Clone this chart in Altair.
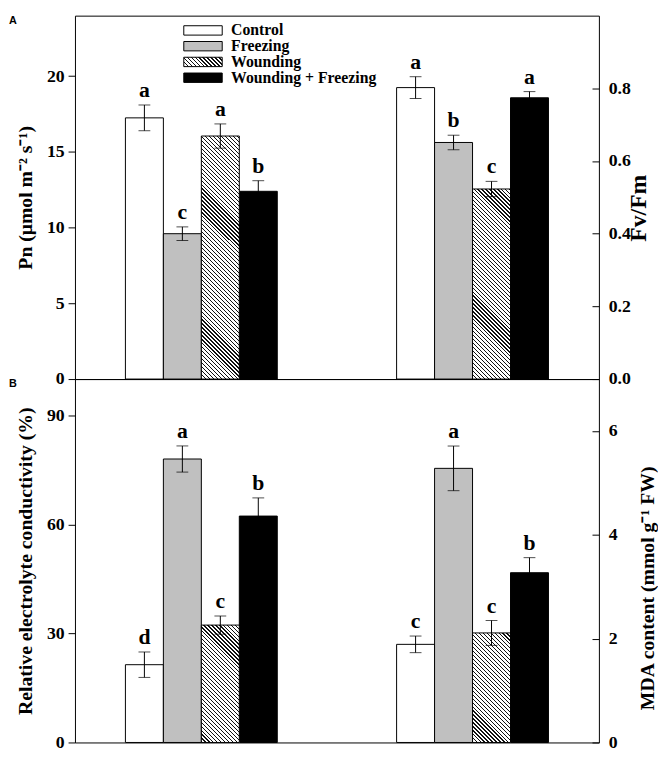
import math
import altair as alt
import pandas as pd

# ---------------- data ----------------
treatments = ["Control", "Freezing", "Wounding", "Wounding + Freezing"]
group_names = ["left", "right"]

pn_mean = [17.25, 9.6, 16.05, 12.4]
pn_err = [0.85, 0.45, 0.8, 0.7]
pn_letters = ["a", "c", "a", "b"]

fvfm_mean = [0.802, 0.651, 0.523, 0.774]
fvfm_err = [0.030, 0.020, 0.021, 0.017]
fvfm_letters = ["a", "b", "c", "a"]

rec_mean = [21.4, 78.0, 32.3, 62.3]
rec_err = [3.5, 3.6, 2.5, 5.0]
rec_letters = ["d", "a", "c", "b"]

mda_mean = [1.89, 5.28, 2.11, 3.27]
mda_err = [0.16, 0.43, 0.24, 0.29]
mda_letters = ["c", "a", "c", "b"]

pn_ticks = [0, 5, 10, 15, 20]
fvfm_ticks = [0.0, 0.2, 0.4, 0.6, 0.8]
rec_ticks = [0, 30, 60, 90]
mda_ticks = [0, 2, 4, 6]

# ---------------- layout / style ----------------
PANEL_W = 532
PANEL_H = 369
PAD_IN = 0.44
PAD_OUT = 0.186
STEP = PANEL_W / (2 - PAD_IN + 2 * PAD_OUT)
BAR_W = (1 - PAD_IN) * STEP / 4
SERIF = "Liberation Serif"
GRAY = "#c0c0c0"


def hatch(w, h, period=2.85, frac=0.3):
    """Diagonal '\\' hatching as a linear gradient in bounding-box units."""
    c = (w + h) / (w * w + h * h)
    n = (w + h) / math.sqrt(2) / period
    stops = []
    k = 0
    while k < n:
        a = k / n
        b = min((k + frac) / n, 1.0)
        e = min((k + 1) / n, 1.0)
        stops += [
            {"offset": round(a, 5), "color": "#111111"},
            {"offset": round(b, 5), "color": "#111111"},
            {"offset": round(b, 5), "color": "white"},
            {"offset": round(e, 5), "color": "white"},
        ]
        k += 1
    return {"gradient": "linear", "x1": 0, "y1": 1,
            "x2": round(c * w, 5), "y2": round(1 - c * h, 5), "stops": stops}


def gradient_expr(g):
    stops = ",".join("{offset:%s,color:'%s'}" % (s["offset"], s["color"]) for s in g["stops"])
    return "{gradient:'linear',x1:%s,y1:%s,x2:%s,y2:%s,stops:[%s]}" % (
        g["x1"], g["y1"], g["x2"], g["y2"], stops)


LEG_W, LEG_H = 39, 9.5
LEG_S = 10  # sqrt of the legend symbol size
legend_hatch = hatch(LEG_W, LEG_H)

color_scale = alt.Scale(
    domain=treatments,
    range=["white", GRAY, {"expr": gradient_expr(legend_hatch)}, "black"],
)

hx = LEG_W / LEG_S
hy = LEG_H / LEG_S
legend_path = "M-%.4f,-%.4fL%.4f,-%.4fL%.4f,%.4fL-%.4f,%.4fZ" % (hx, hy, hx, hy, hx, hy, hx, hy)


def side(means, errs, letters, group, ymax, ticks, orient, title, fmt,
         show_legend, axis_kw):
    df = pd.DataFrame({
        "group": group,
        "treatment": treatments,
        "mean": means,
        "lo": [m - e for m, e in zip(means, errs)],
        "hi": [m + e for m, e in zip(means, errs)],
        "letter": letters,
    })
    x = alt.X("group:N", scale=alt.Scale(domain=group_names, paddingInner=PAD_IN,
                                         paddingOuter=PAD_OUT), axis=None)
    xo = alt.XOffset("treatment:N", scale=alt.Scale(domain=treatments, paddingInner=0,
                                                    paddingOuter=0))
    yscale = alt.Scale(domain=[0, ymax], nice=False, zero=True)
    yaxis = alt.Axis(orient=orient, values=ticks, format=fmt, title=title, **axis_kw)
    base = alt.Chart(df)
    if show_legend:
        legend = alt.Legend(
            title=None, orient="none", legendX=122, legendY=7,
            symbolType=legend_path, symbolSize=LEG_S * LEG_S,
            symbolStrokeColor="black", symbolStrokeWidth=1,
            labelFont=SERIF, labelFontSize=16, labelFontWeight="bold",
            labelColor="black", labelOffset=20.5, labelLimit=400,
            rowPadding=0, padding=0,
        )
    else:
        legend = None
    bars = base.mark_bar(stroke="black", strokeWidth=1).encode(
        x=x, xOffset=xo, y=alt.Y("mean:Q", scale=yscale, axis=yaxis),
        color=alt.Color("treatment:N", scale=color_scale, legend=legend),
    ).transform_filter(alt.datum.treatment != "Wounding")

    hpx = means[2] / ymax * PANEL_H
    wbar = base.mark_bar(stroke="black", strokeWidth=1,
                         fill=hatch(BAR_W, hpx)).encode(
        x=x, xOffset=xo, y=alt.Y("mean:Q", scale=yscale, axis=yaxis),
    ).transform_filter(alt.datum.treatment == "Wounding")

    rules = base.mark_rule(color="black", strokeWidth=1).encode(
        x=x, xOffset=xo, y=alt.Y("lo:Q", scale=yscale, axis=yaxis), y2="hi:Q")
    cap_hi = base.mark_tick(color="black", thickness=1, size=12).encode(
        x=x, xOffset=xo, y=alt.Y("hi:Q", scale=yscale, axis=yaxis))
    cap_lo = base.mark_tick(color="black", thickness=1, size=12).encode(
        x=x, xOffset=xo, y=alt.Y("lo:Q", scale=yscale, axis=yaxis))
    text = base.mark_text(font=SERIF, fontSize=22, fontWeight="bold",
                          baseline="bottom", dy=-3, color="black").encode(
        x=x, xOffset=xo, y=alt.Y("hi:Q", scale=yscale, axis=yaxis), text="letter:N")
    return alt.layer(bars, wbar, rules, cap_hi, cap_lo, text)


left_kw = dict(tickSize=7, labelPadding=4, titlePadding=11, domain=False,
               titleFontSize=20)


def right_kw(title_x, title_y, size):
    return dict(tickSize=7, offset=-7, labelPadding=9.5, domain=False,
                titleAngle=270, titleBaseline="top", titleAlign="center",
                titleX=title_x, titleY=title_y, titleFontSize=size)


panel_title = dict(anchor="end", frame="group", orient="left", offset=-1, angle=0,
                   align="left", baseline="top", font="Liberation Sans", fontSize=11,
                   fontWeight="bold", color="black", dy=-1)

panelA = alt.layer(
    side(pn_mean, pn_err, pn_letters, "left", 24, pn_ticks, "left",
         "Pn (\u03bcmol m\u207b\u00b2 s\u207b\u00b9)", "d", True, left_kw),
    side(fvfm_mean, fvfm_err, fvfm_letters, "right", 1.0, fvfm_ticks, "right",
         "Fv/Fm", ".1f", False, right_kw(35, 195, 24)),
).resolve_scale(y="independent").properties(
    width=PANEL_W, height=PANEL_H,
    title=alt.TitleParams("A", **panel_title),
)

panelB = alt.layer(
    side(rec_mean, rec_err, rec_letters, "left", 100, rec_ticks, "left",
         "Relative electrolyte conductivity (%)", "d", False, left_kw),
    side(mda_mean, mda_err, mda_letters, "right", 7, mda_ticks, "right",
         "MDA content (mmol g\u207b\u00b9 FW)", "d", False, right_kw(46, 212, 20)),
).resolve_scale(y="independent").properties(
    width=PANEL_W, height=PANEL_H,
    title=alt.TitleParams("B", **panel_title),
)

chart = alt.vconcat(panelA, panelB, spacing=0, bounds="flush").properties(
    padding={"left": 0, "top": 0, "right": 0, "bottom": 0},
    background="white",
).configure_view(
    stroke="black", strokeWidth=1,
).configure_axis(
    labelFont=SERIF, labelFontSize=18, labelFontWeight="bold", labelColor="black",
    titleFont=SERIF, titleFontSize=19, titleFontWeight="bold", titleColor="black",
    tickColor="black", tickWidth=1, grid=False,
)

chart.save("out.html", embed_options={"renderer": "svg", "actions": False})
